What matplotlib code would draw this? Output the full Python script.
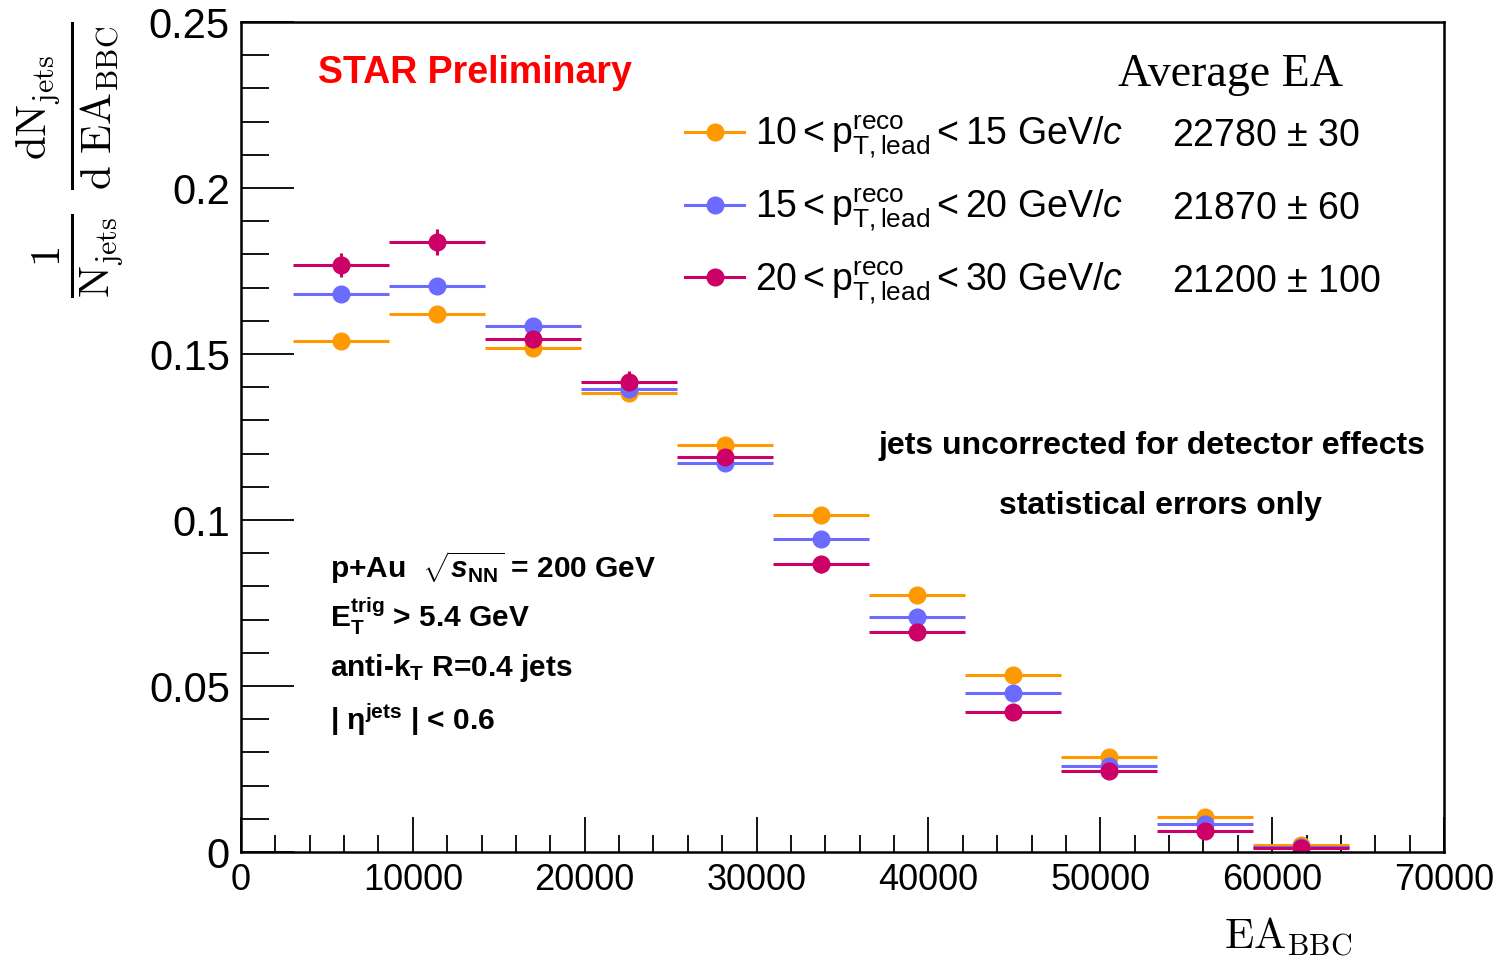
import matplotlib
matplotlib.use("Agg")
import matplotlib.pyplot as plt
from matplotlib.ticker import MultipleLocator
from matplotlib.lines import Line2D

plt.rcParams['font.family'] = ['Liberation Sans', 'DejaVu Sans']
plt.rcParams['mathtext.fontset'] = 'custom'
plt.rcParams['mathtext.rm'] = 'Liberation Sans'
plt.rcParams['mathtext.it'] = 'Liberation Sans:italic'
plt.rcParams['mathtext.bf'] = 'Liberation Sans:bold'
plt.rcParams['mathtext.bfit'] = 'Liberation Sans:italic:bold'

# bin centres of EA_BBC and half width
ea_centers = [5820, 11400, 16990, 22570, 28160, 33740, 39330, 44910, 50500, 56080, 61660]
ea_halfwidth = 2790

# 10 < pT < 15
y_low = [0.1539, 0.1620, 0.1518, 0.1383, 0.1226, 0.1015, 0.0774, 0.0533, 0.0286, 0.0105, 0.0021]
err_low = [0.0012, 0.0012, 0.0011, 0.0010, 0.0010, 0.0009, 0.0008, 0.0006, 0.0005, 0.0003, 0.0001]
# 15 < pT < 20
y_mid = [0.1681, 0.1705, 0.1584, 0.1395, 0.1172, 0.0943, 0.0708, 0.0479, 0.0259, 0.0084, 0.0015]
err_mid = [0.0022, 0.0022, 0.0020, 0.0019, 0.0017, 0.0015, 0.0013, 0.0011, 0.0008, 0.0005, 0.0002]
# 20 < pT < 30
y_high = [0.1768, 0.1837, 0.1545, 0.1416, 0.1190, 0.0867, 0.0663, 0.0422, 0.0244, 0.0063, 0.0012]
err_high = [0.0037, 0.0040, 0.0033, 0.0033, 0.0030, 0.0026, 0.0023, 0.0019, 0.0014, 0.0008, 0.0003]

labels = [r'$10 < \mathrm{p}^{\rm reco}_{\rm T,lead} < 15\ {\rm GeV}/c$',
          r'$15 < \mathrm{p}^{\rm reco}_{\rm T,lead} < 20\ {\rm GeV}/c$',
          r'$20 < \mathrm{p}^{\rm reco}_{\rm T,lead} < 30\ {\rm GeV}/c$']
avg_ea = [r'22780 $\pm$ 30', r'21870 $\pm$ 60', r'21200 $\pm$ 100']
colors = ['#ff9900', '#6b6bff', '#cc0066']

fig = plt.figure(figsize=(14.99, 9.66), dpi=100)
ax = fig.add_axes([241/1499, 114/966, 1203/1499, 830/966])

handles = []
for y, e, c, lab in zip([y_low, y_mid, y_high], [err_low, err_mid, err_high], colors, labels):
    ax.errorbar(ea_centers, y, xerr=ea_halfwidth, yerr=e, fmt='o', color=c,
                ms=12, elinewidth=2.2, capsize=0)
    handles.append(Line2D([], [], color=c, marker='o', ms=12, lw=2.2, label=lab))

ax.set_xlim(0, 70000)
ax.set_ylim(0, 0.25)
ax.set_xticks([0, 10000, 20000, 30000, 40000, 50000, 60000, 70000])
ax.set_xticklabels(['0', '10000', '20000', '30000', '40000', '50000', '60000', '70000'])
ax.xaxis.set_minor_locator(MultipleLocator(2000))
ax.set_yticks([0, 0.05, 0.1, 0.15, 0.2, 0.25])
ax.set_yticklabels(['0', '0.05', '0.1', '0.15', '0.2', '0.25'])
ax.yaxis.set_minor_locator(MultipleLocator(0.01))
ax.tick_params(axis='x', which='major', direction='in', length=25, width=1.3, labelsize=26, pad=8)
ax.tick_params(axis='x', which='minor', direction='in', length=12, width=1.3)
ax.tick_params(axis='y', which='major', direction='in', length=38, width=1.3, labelsize=30, pad=8)
ax.tick_params(axis='y', which='minor', direction='in', length=20, width=1.3)
for s in ax.spines.values():
    s.set_linewidth(1.8)

# axis titles
fig.text(1352/1499, 1 - 937/966, r'$\mathrm{EA_{BBC}}$', ha='right', va='center',
         fontsize=31, math_fontfamily='cm')
fig.text(70/1499, 1 - 160/966,
         r'$\frac{1}{\mathrm{N_{jets}}}\ \frac{\mathrm{dN_{jets}}}{\mathrm{d\ EA_{BBC}}}$',
         rotation=90, ha='center', va='center', fontsize=44, math_fontfamily='cm')

# legend
ax.legend(handles=handles, loc='upper left', bbox_to_anchor=(0.357, 0.908),
          frameon=False, fontsize=27, handlelength=1.55, labelspacing=0.68,
          handletextpad=0.3, borderaxespad=0)

fig.text(1118/1499, 1 - 75/966, 'Average EA', fontsize=33, va='center', ha='left',
         family=['Liberation Serif', 'DejaVu Serif'])
for i, t in enumerate(avg_ea):
    fig.text(1172/1499, 1 - (136 + 73*i)/966, t, fontsize=27, va='center', ha='left')

fig.text(318/1499, 1 - 73/966, 'STAR Preliminary', color='#ff0000', fontsize=27,
         fontweight='bold', va='center', ha='left')
fig.text(1425/1499, 1 - 446/966, 'jets uncorrected for detector effects', fontsize=23,
         fontweight='bold', va='center', ha='right')
fig.text(1160/1499, 1 - 506/966, 'statistical errors only', fontsize=23,
         fontweight='bold', va='center', ha='center')

info = [r'p+Au  $\sqrt{\mathbfit{s}_{\mathbf{NN}}}$ = 200 GeV',
        r'E$_{\mathbf{T}}^{\mathbf{trig}}$ > 5.4 GeV',
        r'anti-k$_{\mathbf{T}}$ R=0.4 jets',
        r'| η$^{\mathbf{jets}}$ | < 0.6']
info_y = [568, 616, 668, 720]
for t, yy in zip(info, info_y):
    fig.text(330/1499, 1 - yy/966, t, fontsize=21.5, fontweight='bold', va='center', ha='left')

fig.savefig('out.png', dpi=100)
